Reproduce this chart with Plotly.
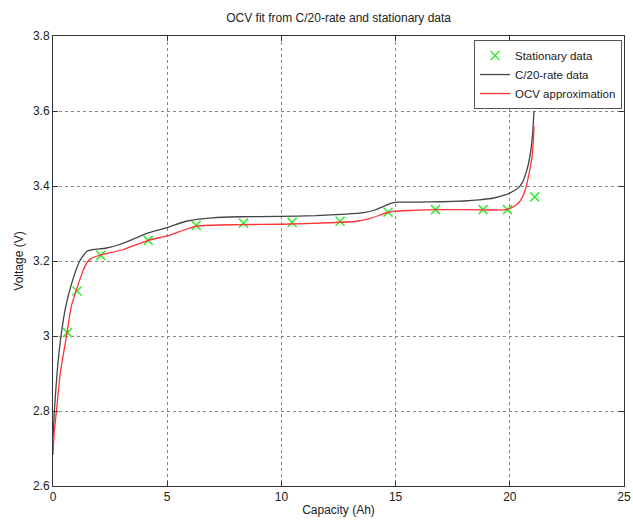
import plotly.graph_objects as go

# Stationary data (X markers)
stat_cap = [0.63, 1.05, 2.09, 4.17, 6.27, 8.34, 10.47, 12.57, 14.67, 16.75, 18.83, 19.9, 21.09]
stat_v = [3.009, 3.12, 3.215, 3.255, 3.295, 3.301, 3.303, 3.306, 3.330, 3.337, 3.337, 3.337, 3.371]

# C/20-rate data (dark line)
c20_cap = [0.0, 0.06, 0.18, 0.35, 0.56, 0.82, 1.17, 1.49, 1.8, 2.3, 2.92, 3.5, 4.08, 5.0, 5.83, 6.99,
           8.16, 9.91, 11.5, 12.83, 13.6, 14.1, 14.45, 14.75, 15.1, 16.0, 17.0, 18.0, 18.66, 19.3,
           19.83, 20.2, 20.41, 20.58, 20.7, 20.82, 20.92, 21.0, 21.06]
c20_v = [2.727, 2.8, 2.902, 3.0, 3.079, 3.141, 3.2, 3.226, 3.231, 3.234, 3.244, 3.258, 3.273,
         3.289, 3.306, 3.315, 3.318, 3.319, 3.321, 3.325, 3.329, 3.336, 3.345, 3.353, 3.357, 3.357,
         3.358, 3.36, 3.363, 3.368, 3.377, 3.388, 3.397, 3.413, 3.433, 3.46, 3.495, 3.54, 3.6]

# OCV approximation (red line)
ocv_cap = [0.0, 0.05, 0.15, 0.32, 0.59, 0.8, 1.02, 1.27, 1.49, 1.68, 2.09, 3.06, 4.17, 5.0, 6.27,
           8.16, 10.0, 12.1, 13.3, 13.85, 14.3, 14.67, 14.96, 15.8, 16.77, 18.0, 19.09, 19.83, 20.2,
           20.4, 20.56, 20.68, 20.78, 20.88, 20.97, 21.03, 21.06]
ocv_v = [2.683, 2.74, 2.8, 2.902, 3.0, 3.079, 3.122, 3.167, 3.196, 3.207, 3.216, 3.23, 3.255,
         3.267, 3.293, 3.297, 3.298, 3.302, 3.306, 3.313, 3.322, 3.33, 3.333, 3.335, 3.337, 3.337,
         3.336, 3.337, 3.346, 3.356, 3.371, 3.39, 3.415, 3.445, 3.477, 3.52, 3.56]

x_ticks = [0, 5, 10, 15, 20, 25]
y_ticks = [2.6, 2.8, 3.0, 3.2, 3.4, 3.6, 3.8]
y_tick_labels = ["2.6", "2.8", "3", "3.2", "3.4", "3.6", "3.8"]

FONT = "Liberation Sans, Arial, sans-serif"

fig = go.Figure()
fig.add_trace(go.Scatter(
    x=stat_cap, y=stat_v, mode="markers", name="Stationary data",
    marker=dict(symbol="x-thin-open", size=9, color="#33ee33",
                line=dict(color="#33ee33", width=1.5)),
))
fig.add_trace(go.Scatter(
    x=c20_cap, y=c20_v, mode="lines", name="C/20-rate data",
    line=dict(color="#444444", width=1.3, shape="spline", smoothing=0.5),
))
fig.add_trace(go.Scatter(
    x=ocv_cap, y=ocv_v, mode="lines", name="OCV approximation",
    line=dict(color="#ff3333", width=1.3, shape="spline", smoothing=0.5),
))

axis_common = dict(
    showline=True, linecolor="#333333", linewidth=1, mirror="ticks",
    ticks="inside", ticklen=5, tickcolor="#333333",
    showgrid=True, gridcolor="#888888", griddash="dot", gridwidth=1,
    zeroline=False, automargin=False, ticklabeloverflow="allow",
    tickfont=dict(size=12, color="#222222", family=FONT),
)

H = 525
fig.update_layout(
    width=633, height=H,
    margin=dict(l=53, r=9, t=36, b=39),
    paper_bgcolor="white", plot_bgcolor="white",
    font=dict(family=FONT, size=12, color="#222222"),
    title=dict(text="OCV fit from C/20-rate and stationary data", x=0.535, xanchor="center",
               y=1 - 18 / H, yanchor="middle", font=dict(size=12, family=FONT, color="#222222")),
    xaxis=dict(range=[0, 25], tickvals=x_ticks,
               title=dict(text="Capacity (Ah)", standoff=2, font=dict(size=12)), **axis_common),
    yaxis=dict(range=[2.6, 3.8], tickvals=y_ticks, ticktext=y_tick_labels,
               title=dict(text="Voltage (V)", standoff=6, font=dict(size=12)), **axis_common),
    legend=dict(x=0.9965, y=0.991, xanchor="right", yanchor="top",
                bgcolor="white", bordercolor="#555555", borderwidth=1,
                font=dict(size=11.5, family=FONT), tracegroupgap=0, itemwidth=30),
    showlegend=True,
)

fig.write_html("out.html", config={"displayModeBar": False},
               post_script="document.body.style.margin='0';document.body.style.overflow='hidden';")
